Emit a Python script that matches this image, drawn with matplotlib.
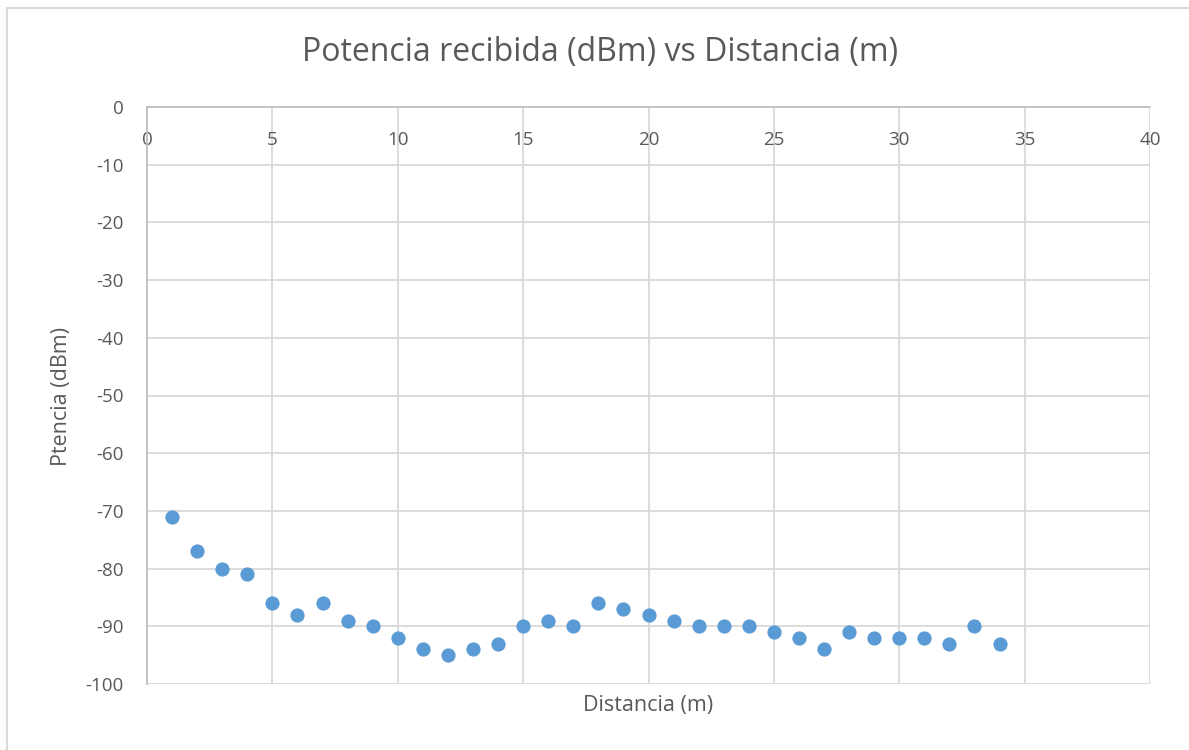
import matplotlib
matplotlib.use("Agg")
import matplotlib.pyplot as plt
from matplotlib.patches import Rectangle

# Received power measurements against distance
distancia = list(range(1, 35))
potencia = [-71, -77, -80, -81, -86, -88, -86, -89, -90, -92,
            -94, -95, -94, -93, -90, -89, -90, -86, -87, -88,
            -89, -90, -90, -90, -91, -92, -94, -91, -92, -92,
            -92, -93, -90, -93]

x_ticks = [0, 5, 10, 15, 20, 25, 30, 35, 40]
y_ticks = [0, -10, -20, -30, -40, -50, -60, -70, -80, -90, -100]

plt.rcParams['font.family'] = ['Open Sans', 'DejaVu Sans']

W, H = 1189, 750
fig = plt.figure(figsize=(W / 100, H / 100), dpi=100)

# chart border
fig.patches.append(Rectangle((7 / W, -0.01), 1.2, 1 - 8 / H + 0.01,
                             transform=fig.transFigure, fill=False,
                             edgecolor='#D9D9D9', linewidth=1.5))

left, right, top, bottom = 147, 1150, 107, 684
ax = fig.add_axes([left / W, 1 - bottom / H, (right - left) / W, (bottom - top) / H])

ax.scatter(distancia, potencia, s=105, color='#5B9BD5', zorder=3, linewidths=0)

ax.set_xlim(0, 40)
ax.set_ylim(-100, 0)
ax.set_xticks(x_ticks)
ax.set_yticks(y_ticks)
ax.set_xticklabels([str(v) for v in x_ticks])
ax.set_yticklabels([str(v) for v in y_ticks])

ax.grid(True, color='#D9D9D9', linewidth=1.3, zorder=0)
ax.set_axisbelow(True)

# horizontal axis crosses at y = 0
ax.spines['bottom'].set_position(('data', 0))
ax.spines['bottom'].set_color('#BFBFBF')
ax.spines['bottom'].set_linewidth(1.3)
ax.spines['left'].set_color('#BFBFBF')
ax.spines['left'].set_linewidth(1.3)
ax.spines['top'].set_visible(False)
ax.spines['right'].set_visible(False)

ax.tick_params(axis='both', length=0, labelsize=13.5, labelcolor='#595959')
ax.tick_params(axis='x', pad=17)
ax.tick_params(axis='y', pad=17)

fig.text(600 / W, 1 - 52 / H, 'Potencia recibida (dBm) vs Distancia (m)',
         ha='center', va='center', fontsize=23, color='#595959')
fig.text(648 / W, 1 - 706 / H, 'Distancia (m)', ha='center', va='center',
         fontsize=15.5, color='#595959')
fig.text(62 / W, 1 - 396 / H, 'Ptencia (dBm)', ha='center', va='center',
         rotation=90, fontsize=15.5, color='#595959')

fig.savefig('out.png', dpi=100)
